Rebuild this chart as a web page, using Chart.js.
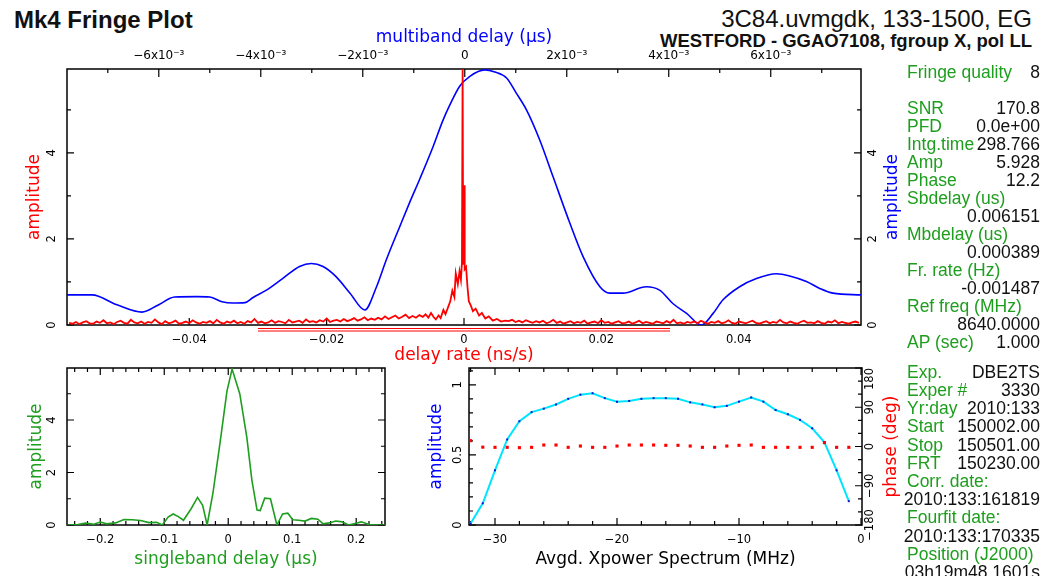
<!DOCTYPE html>
<html>
<head>
<meta charset="utf-8">
<title>Mk4 Fringe Plot</title>
<script src="https://cdn.jsdelivr.net/npm/chart.js@4.4.1/dist/chart.umd.min.js"></script>
<style>
  html, body { margin:0; padding:0; background:#fff; }
  body { width:1049px; height:576px; overflow:hidden; position:relative; font-family:"Liberation Sans", Arial, sans-serif; }
  canvas { position:absolute; }
  .t { position:absolute; white-space:nowrap; color:#111; }
  .info { position:absolute; left:907px; width:133px; height:18px; font-size:17.5px; line-height:18px; }
  .info .l { position:absolute; left:0; top:0; color:#1e9e1e; white-space:nowrap; }
  .info .v { position:absolute; right:0; top:0; color:#111; white-space:nowrap; }
</style>
</head>
<body>
<div class="t" style="left:14px;top:8px;font-size:24px;line-height:24px;font-weight:bold;">Mk4 Fringe Plot</div>
<div class="t" style="right:17px;top:7px;font-size:24px;line-height:24px;">3C84.uvmgdk, 133-1500, EG</div>
<div class="t" style="right:17px;top:32px;font-size:18.5px;line-height:18.5px;font-weight:bold;">WESTFORD - GGAO7108, fgroup X, pol LL</div>
<canvas id="cMain" width="910" height="346" style="left:0;top:20px;"></canvas>
<canvas id="cSb" width="400" height="214" style="left:0;top:362px;"></canvas>
<canvas id="cXp" width="510" height="214" style="left:400px;top:362px;"></canvas>
<div id="info"></div>
<script>
// ---------------- DATA ----------------
// Main plot: delay-rate amplitude (red, bottom axis, ns/s)
const rateStep = 0.0005;
const rateLeftStart = -0.0575;
const rateRightStart = 0.0065;
const rateNoiseLeft = [
0.05,0.03,0.07,0.02,0.06,0.09,0.04,0.03,0.08,0.05,
0.11,0.04,0.06,0.02,0.07,0.10,0.05,0.03,0.12,0.06,
0.04,0.08,0.03,0.07,0.05,0.13,0.06,0.02,0.09,0.04,
0.06,0.10,0.03,0.05,0.08,0.04,0.11,0.06,0.03,0.07,
0.05,0.09,0.04,0.12,0.06,0.03,0.08,0.05,0.10,0.04,
0.07,0.03,0.09,0.06,0.14,0.05,0.08,0.04,0.06,0.11,
0.05,0.09,0.07,0.04,0.12,0.06,0.08,0.10,0.05,0.13,
0.07,0.09,0.06,0.11,0.08,0.15,0.07,0.10,0.12,0.08,
0.14,0.09,0.12,0.16,0.10,0.13,0.18,0.11,0.15,0.12,
0.17,0.13,0.20,0.14,0.18,0.22,0.15,0.19,0.24,0.16,
0.21,0.17,0.23];
const rateCenterX = [-0.0060,-0.0056,-0.0052,-0.0048,-0.0044,-0.0041,-0.0037,-0.0034,-0.0030,-0.0027,-0.0023,-0.0020,-0.0017,-0.0014,-0.0012,-0.0009,-0.00065,-0.00045,-0.0003,-0.0002,-0.00012,0.0,0.0001,0.0003,0.0005,0.0007,0.0010,0.0013,0.0017,0.0022,0.0026,0.0031,0.0036,0.0042,0.0048,0.0054,0.0060];
const rateCenterAmp = [0.19,0.25,0.17,0.28,0.18,0.13,0.22,0.16,0.35,0.25,0.42,0.55,0.80,0.65,1.20,0.95,1.25,1.05,1.45,5.95,1.40,3.25,1.30,1.35,0.90,0.55,0.45,0.32,0.38,0.22,0.28,0.15,0.20,0.10,0.14,0.08,0.10];
const rateNoiseRight = [
0.09,0.12,0.07,0.10,0.06,0.11,0.08,0.05,0.09,0.06,
0.10,0.04,0.07,0.12,0.05,0.08,0.03,0.06,0.09,0.04,
0.07,0.05,0.10,0.03,0.06,0.08,0.04,0.11,0.05,0.07,
0.03,0.06,0.09,0.04,0.05,0.08,0.03,0.06,0.10,0.04,
0.07,0.05,0.03,0.08,0.06,0.04,0.09,0.05,0.12,0.04,
0.06,0.03,0.07,0.05,0.08,0.04,0.10,0.06,0.03,0.07,
0.05,0.09,0.04,0.06,0.11,0.05,0.03,0.08,0.06,0.04,
0.07,0.10,0.05,0.03,0.06,0.09,0.04,0.07,0.05,0.12,
0.06,0.04,0.08,0.05,0.03,0.07,0.10,0.05,0.06,0.04,
0.09,0.05,0.03,0.08,0.06,0.11,0.04,0.07,0.05,0.03,
0.06,0.08,0.05];
const rateWindow = [-0.03, 0.03];

// Main plot: multiband delay amplitude (blue, top axis, us)
const mbX = [-0.00780,-0.00731,-0.00682,-0.00633,-0.00602,-0.00569,-0.00525,-0.00500,-0.00476,-0.00455,
  -0.00431,-0.00415,-0.00389,-0.00356,-0.00324,-0.00301,-0.00278,-0.00252,-0.00225,-0.00196,
  -0.00173,-0.00154,-0.00127,-0.00108,-0.00088,-0.00062,-0.00043,-0.00029,-0.00010,0.00010,
  0.00039,0.00059,0.00082,0.00101,0.00121,0.00147,0.00173,0.00206,0.00232,0.00265,
  0.00284,0.00310,0.00356,0.00382,0.00408,0.00435,0.00464,0.00487,0.00506,0.00539,
  0.00572,0.00611,0.00637,0.00670,0.00696,0.00722,0.00777];
const mbAmp = [0.70,0.70,0.47,0.30,0.46,0.65,0.66,0.65,0.54,0.51,
  0.52,0.64,0.81,1.09,1.36,1.43,1.36,1.12,0.74,0.35,
  0.89,1.51,2.30,2.85,3.40,4.15,4.75,5.12,5.55,5.78,
  5.93,5.88,5.74,5.39,5.00,4.30,3.45,2.37,1.59,0.89,
  0.74,0.74,0.89,0.81,0.50,0.27,0.00,0.27,0.58,0.89,
  1.08,1.19,1.14,1.01,0.85,0.74,0.70];

// Main plot ticks
const rateMajor = [-0.04,-0.02,0,0.02,0.04];
const rateLabels = ['\u22120.04','\u22120.02','0','0.02','0.04'];
const mbMajor = [-0.006,-0.004,-0.002,0,0.002,0.004,0.006];
const mbMinor = [-0.007,-0.005,-0.003,-0.001,0.001,0.003,0.005,0.007];
const mbLabels = ['\u22126x10\u207B\u00B3','\u22124x10\u207B\u00B3','\u22122x10\u207B\u00B3','0','2x10\u207B\u00B3','4x10\u207B\u00B3','6x10\u207B\u00B3'];
const ampMajor = [0,2,4];
const ampMinor = [1,3,5];
const ampLabels = ['0','2','4'];

// Singleband delay (green)
const sbX = [-0.2516,-0.235,-0.223,-0.21,-0.2,-0.19,-0.176,-0.163,-0.15,-0.137,-0.124,-0.112,-0.103,-0.094,-0.086,-0.078,-0.07,-0.058,-0.048,-0.04,-0.033,-0.024,-0.013,-0.002,0.006,0.018,0.029,0.037,0.045,0.05,0.057,0.066,0.076,0.085,0.093,0.101,0.11,0.12,0.13,0.14,0.148,0.158,0.168,0.178,0.188,0.198,0.208,0.22,0.232,0.245];
const sbAmp = [0.0,0.02,0.07,0.03,0.11,0.05,0.08,0.21,0.2,0.17,0.09,0.1,0.0,0.3,0.42,0.32,0.18,0.62,1.05,0.75,0.0,1.2,3.1,5.1,5.94,5.0,3.35,1.7,0.57,0.55,1.02,1.0,0.0,0.42,0.45,0.2,0.18,0.15,0.25,0.22,0.05,0.08,0.15,0.12,0.0,0.06,0.12,0.02,0.0,0.0];
const sbMajor = [-0.2,-0.1,0,0.1,0.2];
const sbLabels = ['\u22120.2','\u22120.1','0','0.1','0.2'];
const sbMinor = [-0.24,-0.22,-0.18,-0.16,-0.14,-0.12,-0.08,-0.06,-0.04,-0.02,0.02,0.04,0.06,0.08,0.12,0.14,0.16,0.18,0.22,0.24];

// Avgd. Xpower spectrum
const xpX = [-32,-31,-30,-29,-28,-27,-26,-25,-24,-23,-22,-21,-20,-19,-18,-17,-16,-15,-14,-13,-12,-11,-10,-9,-8,-7,-6,-5,-4,-3,-2,-1];
const xpAmp = [0.01,0.155,0.39,0.61,0.74,0.805,0.83,0.86,0.90,0.93,0.94,0.905,0.88,0.885,0.90,0.905,0.905,0.90,0.875,0.86,0.84,0.85,0.88,0.91,0.88,0.82,0.79,0.75,0.69,0.59,0.39,0.17];
const xpPhase = [13.4,-1.5,-1.9,-1.9,-2.7,-1.9,3.4,3.4,-1.9,1.1,-1.9,-1.9,1.1,3.4,3.4,3.4,2.7,2.7,1.1,-1.9,-1.9,1.1,2.7,3.4,-1.9,-1.9,-1.9,-1.9,-1.9,8.8,-1.9,-1.9];
const xpMajor = [-30,-20,-10,0];
const xpLabels = ['\u221230','\u221220','\u221210','0'];
const xpMinor = [-32,-28,-26,-24,-22,-18,-16,-14,-12,-8,-6,-4,-2];
const xpAmpMajor = [0,0.5,1];
const xpAmpLabels = ['0','0.5','1'];
const xpAmpMinor = [0.1,0.2,0.3,0.4,0.6,0.7,0.8,0.9,1.1];
const phaseMajor = [-180,-90,0,90,180];
const phaseLabels = ['\u2212180','\u221290','0','90','180'];
const phaseMinor = [-150,-120,-60,-30,30,60,120,150];

// Info panel
const infoUpper = [['Fringe quality','8'],['',''],['SNR','170.8'],['PFD','0.0e+00'],['Intg.time','298.766'],['Amp','5.928'],['Phase','12.2'],['Sbdelay (us)',''],['','0.006151'],['Mbdelay (us)',''],['','0.000389'],['Fr. rate (Hz)',''],['','-0.001487'],['Ref freq (MHz)',''],['','8640.0000'],['AP (sec)','1.000']];
const infoLower = [['Exp.','DBE2TS'],['Exper #','3330'],['Yr:day','2010:133'],['Start','150002.00'],['Stop','150501.00'],['FRT','150230.00'],['Corr. date:',''],['','2010:133:161819'],['Fourfit date:',''],['','2010:133:170335'],['Position (J2000)',''],['','03h19m48.1601s']];

// ---------------- INFO PANEL ----------------
(function(){
  const box = document.getElementById('info');
  function addRows(rows, top0, step){
    rows.forEach((r,i) => {
      const d = document.createElement('div');
      d.className = 'info';
      d.style.top = (top0 + step*i) + 'px';
      if (r[0]) { const l = document.createElement('span'); l.className='l'; l.textContent=r[0]; d.appendChild(l); }
      if (r[1]) { const v = document.createElement('span'); v.className='v'; v.textContent=r[1]; d.appendChild(v); }
      box.appendChild(d);
    });
  }
  addRows(infoUpper, 63, 18);
  addRows(infoLower, 362.7, 18.2);
})();

// ---------------- HELPERS ----------------
Chart.defaults.animation = false;
Chart.defaults.font.family = 'DejaVu Sans';
const TICK_FONT = {family:'DejaVu Sans', size:11.5};
const TOP_TICK_FONT = {family:'DejaVu Sans', size:12};
const TITLE_FONT = {family:'DejaVu Sans', size:17};
const TICK_CSS = '11.5px "DejaVu Sans"';
const TITLE_CSS = '17px "DejaVu Sans"';
const RED = '#ff0000', BLUE = '#0000ff', GREEN = '#1e9e1e', CYAN = '#00e5ff';

function labelFor(vals, labels){ return v => { const i = vals.findIndex(t => Math.abs(t - v) < 1e-9); return i >= 0 ? labels[i] : ''; }; }
function fixedTicks(vals){ return s => { s.ticks = vals.map(v => ({value:v})); }; }
function xAxis(o){
  return {
    type:'linear', position:o.position, min:o.min, max:o.max,
    afterBuildTicks: fixedTicks(o.major),
    afterFit: s => { s.height = o.height; },
    grid:{display:false, drawTicks:false}, border:{display:false},
    ticks:{autoSkip:false, maxRotation:0, minRotation:0, padding:o.pad, color:'#000', font:o.font || TICK_FONT, callback:labelFor(o.major, o.labels)},
    title:{display:true, text:o.title, color:o.titleColor, font:TITLE_FONT, padding:o.titlePad}
  };
}
function hiddenY(min, max, position){ return {type:'linear', display:false, position:position, min:min, max:max}; }
function rotText(ctx, text, x, y, font, color){
  ctx.save(); ctx.translate(x, y); ctx.rotate(-Math.PI/2);
  ctx.font = font; ctx.fillStyle = color; ctx.textAlign = 'center'; ctx.textBaseline = 'middle';
  ctx.fillText(text, 0, 0); ctx.restore();
}
function pgFrame(spec){
  return {
    id:'pgFrame',
    beforeDatasetsDraw(chart){
      const ctx = chart.ctx, a = chart.chartArea;
      ctx.save();
      ctx.strokeStyle = '#000';
      ctx.lineWidth = 1.5;
      ctx.strokeRect(a.left, a.top, a.right - a.left, a.bottom - a.top);
      ctx.lineWidth = 1.2;
      spec.ticks.forEach(t => {
        const s = chart.scales[t.scale];
        ctx.beginPath();
        t.values.forEach(v => {
          const p = s.getPixelForValue(v);
          t.sides.forEach(side => {
            if (side === 'bottom') { ctx.moveTo(p, a.bottom); ctx.lineTo(p, a.bottom - t.len); }
            else if (side === 'top') { ctx.moveTo(p, a.top); ctx.lineTo(p, a.top + t.len); }
            else if (side === 'left') { ctx.moveTo(a.left, p); ctx.lineTo(a.left + t.len, p); }
            else { ctx.moveTo(a.right, p); ctx.lineTo(a.right - t.len, p); }
          });
        });
        ctx.stroke();
      });
      spec.labels.forEach(l => {
        const s = chart.scales[l.scale];
        const x = l.side === 'left' ? a.left - l.off : a.right + l.off;
        ctx.font = TICK_CSS;
        l.values.forEach((v, i) => {
          let y = s.getPixelForValue(v);
          const w = ctx.measureText(l.text[i]).width;
          y = Math.max(y, a.top + w/2);
          rotText(ctx, l.text[i], x, y, TICK_CSS, '#000');
        });
      });
      spec.titles.forEach(t => {
        const x = t.side === 'left' ? a.left - t.off : a.right + t.off;
        rotText(ctx, t.text, x, (a.top + a.bottom)/2, TITLE_CSS, t.color);
      });
      if (spec.extra) spec.extra(chart, ctx, a);
      ctx.restore();
    }
  };
}
const baseOpts = { responsive:false, animation:false, events:[], plugins:{legend:{display:false}, tooltip:{enabled:false}} };

// ---------------- MAIN CHART ----------------
const rateData = [];
rateNoiseLeft.forEach((y, i) => rateData.push({x: rateLeftStart + i*rateStep, y: y}));
rateCenterX.forEach((x, i) => rateData.push({x: x, y: rateCenterAmp[i]}));
rateNoiseRight.forEach((y, i) => rateData.push({x: rateRightStart + i*rateStep, y: y}));
const mbData = mbX.map((x, i) => ({x: x, y: mbAmp[i]}));

new Chart(document.getElementById('cMain'), {
  type:'scatter',
  data:{ datasets:[
    {label:'delay rate', data:rateData, xAxisID:'x', yAxisID:'y', showLine:true, borderColor:RED, borderWidth:1.8, pointRadius:0, tension:0},
    {label:'multiband delay', data:mbData, xAxisID:'x2', yAxisID:'y2', showLine:true, borderColor:BLUE, borderWidth:1.6, pointRadius:0, cubicInterpolationMode:'monotone'}
  ]},
  options: Object.assign({}, baseOpts, {
    layout:{padding:{left:67, right:49, top:0, bottom:0}},
    scales:{
      x: xAxis({position:'bottom', min:-0.0578, max:0.0578, major:rateMajor, labels:rateLabels, height:41, pad:8, title:'delay rate (ns/s)', titleColor:RED, titlePad:{top:0, bottom:0.5}}),
      x2: xAxis({position:'top', min:-0.0078, max:0.00777, major:mbMajor, labels:mbLabels, height:49, pad:6, font:TOP_TICK_FONT, title:'multiband delay (\u00B5s)', titleColor:BLUE, titlePad:{top:7.8, bottom:0}}),
      y: hiddenY(0, 5.95, 'left'),
      y2: hiddenY(0, 5.95, 'right')
    }
  }),
  plugins:[pgFrame({
    ticks:[
      {scale:'x', values:rateMajor, sides:['bottom'], len:7},
      {scale:'x2', values:mbMajor, sides:['top'], len:8},
      {scale:'x2', values:mbMinor, sides:['top'], len:4},
      {scale:'y', values:ampMajor, sides:['left','right'], len:7},
      {scale:'y', values:ampMinor, sides:['left','right'], len:4}
    ],
    labels:[
      {scale:'y', values:ampMajor, text:ampLabels, side:'left', off:15},
      {scale:'y2', values:ampMajor, text:ampLabels, side:'right', off:12}
    ],
    titles:[
      {text:'amplitude', side:'left', off:32, color:RED},
      {text:'amplitude', side:'right', off:32, color:BLUE}
    ],
    extra:(chart, ctx, a) => {
      const s = chart.scales.x;
      const x1 = s.getPixelForValue(rateWindow[0]), x2 = s.getPixelForValue(rateWindow[1]);
      ctx.strokeStyle = RED; ctx.lineWidth = 1;
      ctx.beginPath();
      ctx.moveTo(x1, a.bottom + 3.5); ctx.lineTo(x2, a.bottom + 3.5);
      ctx.moveTo(x1, a.bottom + 6); ctx.lineTo(x2, a.bottom + 6);
      ctx.stroke();
    }
  })]
});

// ---------------- SINGLEBAND CHART ----------------
new Chart(document.getElementById('cSb'), {
  type:'scatter',
  data:{ datasets:[
    {label:'singleband delay', data:sbX.map((x, i) => ({x: x, y: sbAmp[i]})), showLine:true, borderColor:GREEN, borderWidth:1.6, pointRadius:0, tension:0}
  ]},
  options: Object.assign({}, baseOpts, {
    layout:{padding:{left:67, right:15, top:6, bottom:0}},
    scales:{
      x: xAxis({position:'bottom', min:-0.252, max:0.245, major:sbMajor, labels:sbLabels, height:51, pad:8, title:'singleband delay (\u00B5s)', titleColor:GREEN, titlePad:{top:0, bottom:5.8}}),
      y: hiddenY(0, 5.98, 'left')
    }
  }),
  plugins:[pgFrame({
    ticks:[
      {scale:'x', values:sbMajor, sides:['bottom','top'], len:7},
      {scale:'x', values:sbMinor, sides:['bottom','top'], len:4},
      {scale:'y', values:ampMajor, sides:['left','right'], len:7},
      {scale:'y', values:ampMinor, sides:['left','right'], len:4}
    ],
    labels:[{scale:'y', values:ampMajor, text:ampLabels, side:'left', off:15}],
    titles:[{text:'amplitude', side:'left', off:30, color:GREEN}]
  })]
});

// ---------------- XPOWER CHART ----------------
new Chart(document.getElementById('cXp'), {
  type:'scatter',
  data:{ datasets:[
    {label:'phase', data:xpX.map((x, i) => ({x: x, y: xpPhase[i]})), yAxisID:'y2', showLine:false, pointStyle:'rect', pointRadius:2.2, pointBackgroundColor:RED, pointBorderWidth:0},
    {label:'amplitude', data:xpX.map((x, i) => ({x: x, y: xpAmp[i]})), yAxisID:'y', showLine:true, borderColor:CYAN, borderWidth:2, pointStyle:'rect', pointRadius:1.4, pointBackgroundColor:'#1010d0', pointBorderWidth:0, tension:0}
  ]},
  options: Object.assign({}, baseOpts, {
    layout:{padding:{left:69, right:48, top:6, bottom:0}},
    scales:{
      x: xAxis({position:'bottom', min:-32.13, max:0.08, major:xpMajor, labels:xpLabels, height:51, pad:8, title:'Avgd. Xpower Spectrum (MHz)', titleColor:'#000', titlePad:{top:0, bottom:5.8}}),
      y: hiddenY(0, 1.12, 'left'),
      y2: hiddenY(-180, 180, 'right')
    }
  }),
  plugins:[pgFrame({
    ticks:[
      {scale:'x', values:xpMajor, sides:['bottom','top'], len:7},
      {scale:'x', values:xpMinor, sides:['bottom','top'], len:4},
      {scale:'y', values:xpAmpMajor, sides:['left'], len:7},
      {scale:'y', values:xpAmpMinor, sides:['left'], len:4},
      {scale:'y2', values:phaseMajor, sides:['right'], len:7},
      {scale:'y2', values:phaseMinor, sides:['right'], len:4}
    ],
    labels:[
      {scale:'y', values:xpAmpMajor, text:xpAmpLabels, side:'left', off:11},
      {scale:'y2', values:phaseMajor, text:phaseLabels, side:'right', off:8}
    ],
    titles:[
      {text:'amplitude', side:'left', off:32, color:BLUE},
      {text:'phase (deg)', side:'right', off:30, color:RED}
    ]
  })]
});
</script>
</body>
</html>
